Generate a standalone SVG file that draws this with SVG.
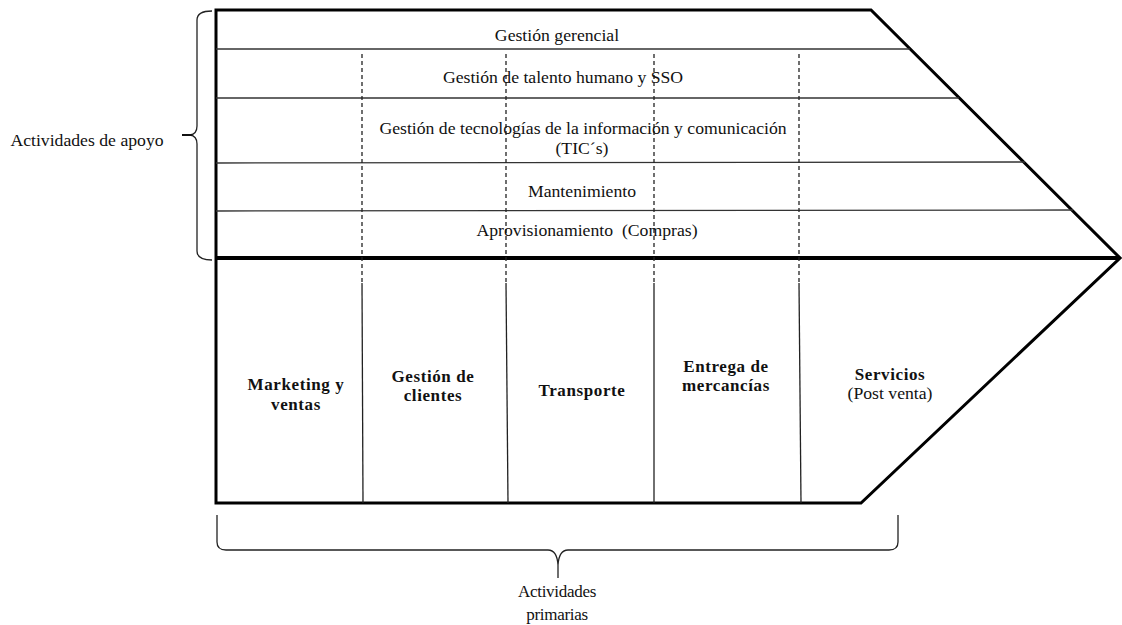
<svg xmlns="http://www.w3.org/2000/svg" width="1122" height="625" viewBox="0 0 1122 625">
<style>
.t{font-family:"Liberation Serif","Times New Roman",serif;font-size:17.7px;fill:#111;text-anchor:middle}
.b{font-weight:bold;font-size:17px;letter-spacing:0.6px}
.sep{stroke:#333;stroke-width:1.3;fill:none}
.dash{stroke:#222;stroke-width:1.3;stroke-dasharray:4,3;fill:none}
.sol{stroke:#222;stroke-width:1.3;fill:none}
.thick{stroke:#000;stroke-width:3;fill:none;stroke-linejoin:miter}
.brace{stroke:#222;stroke-width:1.3;fill:none}
</style>
<rect width="1122" height="625" fill="#fff"/>
<g id="frame">
<path class="thick" d="M216,10 L871,10 L1120,258 L861,503 L216,503 Z"/>
<line x1="216" y1="258" x2="1120" y2="258" stroke="#000" stroke-width="4"/>
</g>
<g id="support-rows">
<line class="sep" x1="216" y1="49" x2="910" y2="49"/>
<line class="sep" x1="216" y1="98" x2="959" y2="98"/>
<line class="sep" x1="216" y1="163" x2="1025" y2="162"/>
<line class="sep" x1="216" y1="211" x2="1073" y2="210"/>
</g>
<g id="dividers">
<line class="dash" x1="362" y1="54" x2="362" y2="283"/>
<line class="dash" x1="506" y1="54" x2="506" y2="283"/>
<line class="dash" x1="654" y1="54" x2="654" y2="283"/>
<line class="dash" x1="799" y1="54" x2="799" y2="283"/>
<line class="sol" x1="362" y1="283" x2="363" y2="503"/>
<line class="sol" x1="506" y1="283" x2="508" y2="503"/>
<line class="sol" x1="654" y1="283" x2="654" y2="503"/>
<line class="sol" x1="799" y1="283" x2="801" y2="503"/>
</g>
<g id="gestion-gerencial"><text class="t" x="557" y="41">Gestión gerencial</text></g>
<g id="talento-humano"><text class="t" x="563" y="83">Gestión de talento humano y SSO</text></g>
<g id="tics"><text class="t" x="583" y="134">Gestión de tecnologías de la información y comunicación</text><text class="t" x="582" y="154">(TIC´s)</text></g>
<g id="mantenimiento"><text class="t" x="582" y="197">Mantenimiento</text></g>
<g id="aprovisionamiento"><text class="t" x="587" y="236" xml:space="preserve">Aprovisionamiento  (Compras)</text></g>
<g id="marketing"><text class="t b" x="296" y="390">Marketing y</text><text class="t b" x="296" y="410">ventas</text></g>
<g id="gestion-clientes"><text class="t b" x="433" y="382">Gestión de</text><text class="t b" x="433" y="401">clientes</text></g>
<g id="transporte"><text class="t b" x="582" y="396">Transporte</text></g>
<g id="entrega"><text class="t b" x="726" y="372">Entrega de</text><text class="t b" x="726" y="391">mercancías</text></g>
<g id="servicios"><text class="t b" x="890" y="380">Servicios</text><text class="t" x="890" y="399">(Post venta)</text></g>
<g id="apoyo">
<path class="brace" d="M212,11 Q197,11 197,20 L197,126 Q197,134 190,135 L182,135 M190,135 Q197,136 197,144 L197,251 Q197,260 212,260"/>
<line x1="182" y1="135" x2="192" y2="135" stroke="#111" stroke-width="2"/>
<text class="t" x="87" y="146">Actividades de apoyo</text>
</g>
<g id="primarias">
<path class="brace" d="M217,515 L217,542 Q217,550 226,550 L548,550 Q557,550 558,565 L558,578 M558,565 Q559,550 568,550 L889,550 Q898,550 898,542 L898,515"/>
<text class="t" x="557" y="597" style="font-size:17px;letter-spacing:-0.3px">Actividades</text>
<text class="t" x="557" y="620" style="font-size:17px;letter-spacing:-0.3px">primarias</text>
</g>
</svg>
